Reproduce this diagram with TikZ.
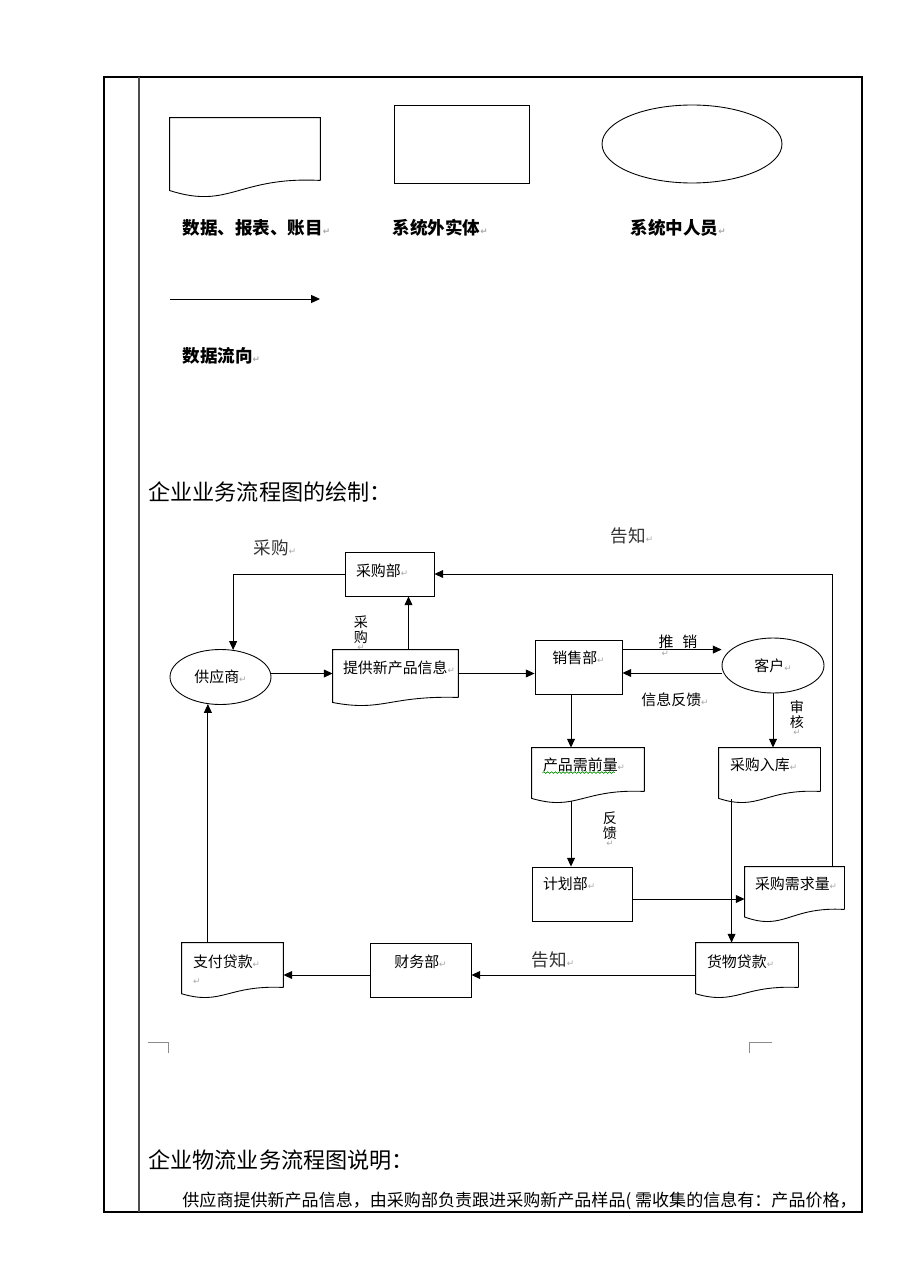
\documentclass[tikz,border=0pt]{standalone}
\usepackage{fontspec}
\setmainfont{Noto Sans CJK SC}
\newfontfamily\dejavu{DejaVu Sans}
\usetikzlibrary{arrows.meta,calc,shapes.geometric,decorations.pathmorphing}

% Word paragraph mark
\newcommand{\enter}{{\dejavu\fontsize{5}{5}\selectfont\textcolor{black!35}{↵}}}
% wavy document outline around a node, #2 = depth of the wave
\newcommand{\docshape}[2]{%
  \draw (#1.south east) -- (#1.north east) -- (#1.north west)
    -- ($(#1.south west)+(0,-0.63*#2)$)
    .. controls ($(#1.south west)!0.4!(#1.south east)+(0,-1.84*#2)$)
    and ($(#1.south west)!0.45!(#1.south east)+(0,0.26*#2)$) .. (#1.south east);}

\begin{document}
\begin{tikzpicture}[x=0.02cm, y=-0.02cm, line width=0.5pt,
    flow/.style={-{Triangle[length=5pt,width=4.5pt]}},
    procbox/.style={draw, rectangle, inner ysep=0pt, inner xsep=0.22cm, align=left,
      font=\fontsize{8.5}{10}\selectfont},
    docbox/.style={rectangle, inner ysep=0pt, inner xsep=0.22cm, align=left,
      font=\fontsize{8.5}{10}\selectfont},
    persell/.style={draw, ellipse, inner sep=0pt, font=\fontsize{8.5}{10}\selectfont},
    lbl/.style={inner sep=0pt, font=\fontsize{8.5}{10}\selectfont},
    biglbl/.style={inner sep=0pt, text=black!80, font=\fontsize{10}{12}\selectfont},
    legendtxt/.style={anchor=west, inner sep=0pt, font=\bfseries\fontsize{10}{12}\selectfont},
    heading/.style={anchor=west, inner sep=0pt, font=\fontsize{12.6}{15}\selectfont}]
  \useasboundingbox (0,0) rectangle (920,1277);

  % page frame
  \draw[line width=1.1pt] (104,77) rectangle (862,1212);
  \draw[line width=0.8pt, black!70] (139,77) -- (139,1212);

  % legend
  \node[docbox, minimum width=3cm, minimum height=1.24cm] (lgdoc) at (245,149) {};
  \docshape{lgdoc}{0.32cm}
  \node[draw, rectangle, minimum width=2.7cm, minimum height=1.56cm] (lgrect) at (461.5,144) {};
  \node[draw, ellipse, minimum width=3.6cm, minimum height=1.56cm] (lgell) at (692,144) {};
  \node[legendtxt] (lgdoctxt) at (182,228) {数据、报表、账目\enter};
  \node[legendtxt] (lgrecttxt) at (392,228) {系统外实体\enter};
  \node[legendtxt] (lgelltxt) at (630,228) {系统中人员\enter};
  \coordinate (lgfrom) at (170,299);
  \coordinate (lgto) at (320,299);
  \draw[flow] (lgfrom) -- (lgto);
  \node[legendtxt] (lgflowtxt) at (182,356) {数据流向\enter};

  \node[heading] (title) at (148,492) {企业业务流程图的绘制：};

  % flow chart
  \node[procbox, text width=1.34cm, text height=0.48cm, text depth=0.40cm] (cgb) at (389.5,574) {采购部\enter};
  \node[procbox, align=center, text width=1.30cm, text height=0.46cm, text depth=0.62cm] (xsb) at (578.5,667) {销售部\enter};
  \node[procbox, text width=1.56cm, text height=0.44cm, text depth=0.64cm] (jhb) at (582,894) {计划部\enter};
  \node[procbox, align=center, text width=1.58cm, text height=0.48cm, text depth=0.60cm] (cwb) at (420.5,970) {财务部\enter};
  \node[persell, minimum width=2.02cm, minimum height=1.10cm] (gys) at (220.5,677) {供应商\enter};
  \node[persell, minimum width=2.04cm, minimum height=1.10cm] (kh) at (773,665.5) {客户\enter};

  \node[docbox, inner xsep=0.2cm, text width=2.1cm, text height=0.46cm, text depth=0.48cm] (xxx) at (395.5,673.5) {提供新产品信息\enter};
  \docshape{xxx}{0.16cm}
  \node[docbox, text width=1.80cm, text height=0.44cm, text depth=0.42cm] (cpxq) at (588,769.5) {产品需前量\enter};
  \docshape{cpxq}{0.22cm}
  \draw[green!55!black, line width=0.4pt, decorate, decoration={snake, amplitude=0.45pt, segment length=2.2pt}]
    ($(cpxq.north west)+(11,25)$) -- ++(72,0);
  \node[docbox, text width=1.58cm, text height=0.44cm, text depth=0.42cm] (cgrk) at (769.5,769.5) {采购入库\enter};
  \docshape{cgrk}{0.22cm}
  \node[docbox, inner xsep=0.2cm, text width=1.58cm, text height=0.44cm, text depth=0.40cm] (cgxq) at (794.5,888) {采购需求量\enter};
  \docshape{cgxq}{0.24cm}
  \node[docbox, text width=1.60cm, text height=0.48cm, text depth=0.40cm] (hwdk) at (747,965) {货物贷款\enter};
  \docshape{hwdk}{0.2cm}
  \node[docbox, text width=1.58cm, text height=0.48cm, text depth=0.40cm] (zfdk) at (232.5,965) {支付贷款\enter\\\enter};
  \docshape{zfdk}{0.2cm}

  % connectors
  \draw[flow] (cgb.west) -| (gys.65);
  \draw[flow] (gys.east |- xxx.west) -- (xxx.west);
  \draw[flow] ([xshift=0.26cm]xxx.north) -- ([xshift=0.26cm]xxx.north |- cgb.south);
  \draw[flow] (xxx.east) -- (xxx.east -| xsb.west);
  \draw[flow] ([yshift=-0.2cm]xsb.north east) -- ([yshift=-0.2cm]xsb.north east -| kh.west);
  \draw[flow] ([yshift=-0.15cm]kh.west) -- ([yshift=-0.15cm]kh.west -| xsb.east);
  \coordinate (midx) at ([xshift=-0.15cm]xsb.south);
  \draw[flow] (midx) -- (midx |- cpxq.north);
  \draw[flow] ($(midx |- cpxq.south)+(0,10)$) -- (midx |- jhb.north);
  \draw[flow] (kh.south) -- (kh.south |- cgrk.north);
  \coordinate (rkx) at ($(cgrk.south west)+(13,8)$);
  \draw[flow] (rkx) -- (rkx |- hwdk.north);
  \draw[flow] ([yshift=-0.1cm]jhb.east) -- ([yshift=-0.1cm]jhb.east -| cgxq.west);
  \draw[flow] ([xshift=-0.24cm]cgxq.north east) |- (cgb.east);
  \draw[flow] ([yshift=-0.2cm]hwdk.west) -- ([yshift=-0.2cm]hwdk.west -| cwb.east);
  \draw[flow] ([yshift=-0.1cm]cwb.west) -- ([yshift=-0.1cm]cwb.west -| zfdk.east);
  \draw[flow] (zfdk.north west -| gys.245) -- (gys.245);

  % connector labels
  \node[biglbl] (lbcg) at (275,548) {采购\enter};
  \node[biglbl] (lbgz) at (632,536) {告知\enter};
  \node[lbl, align=center, font=\fontsize{8}{8.5}\selectfont] (lbcgv) at (361,633) {采\\购\\[-4pt]\enter};
  \node[lbl, align=left] (lbtx) at (678,646) {推\hspace{0.6em}销\\[-5pt]\hspace{0.2em}\enter};
  \node[lbl] (lbxx) at (675,700) {信息反馈\enter};
  \node[lbl, align=center, font=\fontsize{8}{8.5}\selectfont] (lbsh) at (797,718) {审\\核\\[-4pt]\enter};
  \node[lbl, align=center, font=\fontsize{8}{8.5}\selectfont] (lbfk) at (610,829) {反\\馈\\[-4pt]\enter};
  \node[biglbl] (lbgz2) at (553,960) {告知\enter};

  % text boundary marks
  \draw[black!45] (148,1042) -- (168,1042) -- (168,1053);
  \draw[black!45] (772,1042) -- (749,1042) -- (749,1053);

  \node[heading] (title2) at (148,1160) {企业物流业务流程图说明：};
  \node[anchor=west, inner sep=0pt, font=\fontsize{9.7}{12}\selectfont] (body) at (182,1201)
    {供应商提供新产品信息，由采购部负责跟进采购新产品样品(~需收集的信息有：产品价格，};
\end{tikzpicture}
\end{document}
